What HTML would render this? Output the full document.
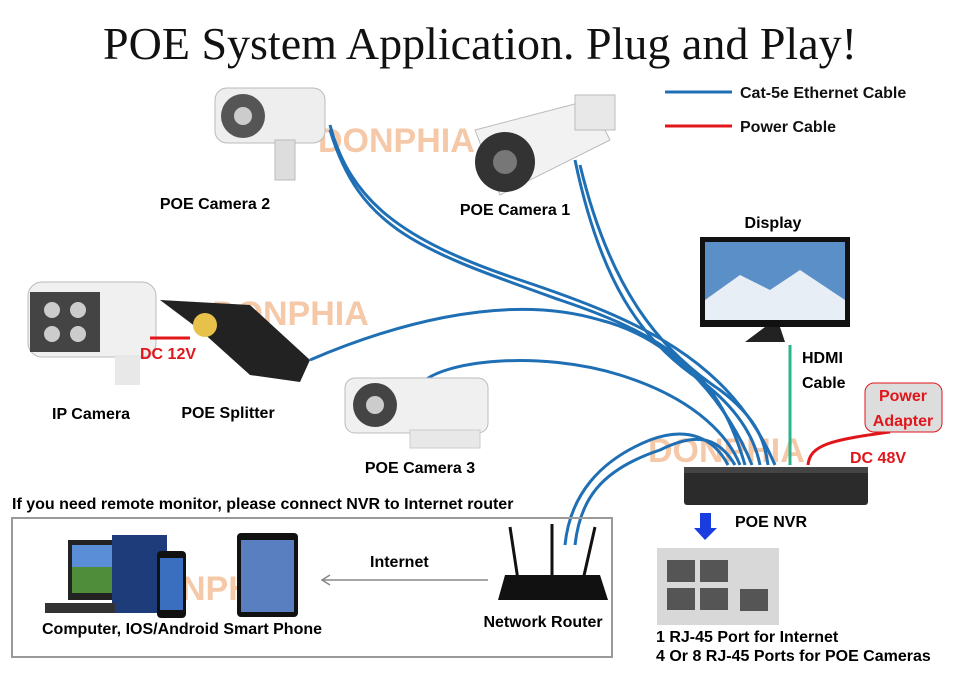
<!DOCTYPE html>
<html><head><meta charset="utf-8"><style>
html,body{margin:0;padding:0;background:#fff;}
svg{display:block;}
text{font-family:"Liberation Sans",Arial,sans-serif;font-weight:bold;}
</style></head><body>
<svg width="960" height="675" viewBox="0 0 960 675" xmlns="http://www.w3.org/2000/svg">
<rect width="960" height="675" fill="#fff"/>
<text x="480" y="59" text-anchor="middle" style="font-family:'Liberation Serif',serif;font-weight:normal" font-size="46" fill="#111">POE System Application. Plug and Play!</text>
<!-- legend -->
<line x1="665" y1="92" x2="732" y2="92" stroke="#1f6fb5" stroke-width="3"/>
<text x="740" y="98" font-size="16" fill="#111">Cat-5e Ethernet Cable</text>
<line x1="665" y1="126" x2="732" y2="126" stroke="#e0161b" stroke-width="3"/>
<text x="740" y="132" font-size="16" fill="#111">Power Cable</text>
<!-- watermarks -->
<g fill="#f2b68c" opacity="0.75" font-size="34">
<text x="318" y="152">DONPHIA</text>
<text x="212" y="325">DONPHIA</text>
<text x="648" y="462">DONPHIA</text>
<text x="130" y="600">DONPHIA</text>
</g>
<!-- blue cables -->
<g fill="none" stroke="#1f6fb5" stroke-width="3">
<path d="M330 130 C360 230 420 250 560 300 C680 340 720 380 745 465"/>
<path d="M575 160 C600 280 640 340 700 380 C740 410 755 440 760 465"/>
<path d="M580 165 C610 290 660 350 720 390 C760 420 765 445 768 465"/>
<path d="M310 360 C380 330 500 290 600 320 C680 340 730 410 752 465"/>
<path d="M420 385 C440 360 540 350 620 375 C700 400 730 440 740 465"/>
<path d="M575 545 C580 500 600 470 660 450 C700 430 720 440 735 465"/>
<path d="M565 545 C570 495 600 460 650 440 C690 425 715 440 728 465"/>
<path d="M330 125 C350 200 400 240 520 280 C640 320 730 360 775 465"/>
</g>
<line x1="790" y1="345" x2="790" y2="465" stroke="#2bb38c" stroke-width="3"/>
<path d="M808 465 C810 445 830 440 890 432" fill="none" stroke="#e0161b" stroke-width="3"/>
<!-- Camera 2 -->
<g>
<rect x="215" y="88" width="110" height="55" rx="12" fill="#eee" stroke="#bbb"/>
<circle cx="243" cy="116" r="22" fill="#555"/><circle cx="243" cy="116" r="9" fill="#ccc"/>
<rect x="275" y="140" width="20" height="40" fill="#ddd" stroke="#bbb"/>
</g>
<text x="215" y="209" text-anchor="middle" font-size="16">POE Camera 2</text>
<!-- Camera 1 -->
<g>
<path d="M475 130 L590 100 L610 140 L500 195 Z" fill="#f2f2f2" stroke="#bbb"/>
<circle cx="505" cy="162" r="30" fill="#333"/><circle cx="505" cy="162" r="12" fill="#777"/>
<rect x="575" y="95" width="40" height="35" fill="#e8e8e8" stroke="#bbb"/>
</g>
<text x="515" y="215" text-anchor="middle" font-size="16">POE Camera 1</text>
<!-- Display -->
<text x="773" y="228" text-anchor="middle" font-size="16">Display</text>
<rect x="700" y="237" width="150" height="90" fill="#111"/>
<rect x="705" y="242" width="140" height="78" fill="#5b8fc7"/>
<path d="M705 300 L740 275 L770 290 L800 270 L845 300 L845 320 L705 320Z" fill="#e8eef5"/>
<path d="M765 327 L780 327 L785 342 L745 342 Z" fill="#222"/>
<text x="802" y="363" font-size="16">HDMI</text>
<text x="802" y="388" font-size="16">Cable</text>
<rect x="865" y="383" width="77" height="49" rx="9" fill="#ddd" stroke="#e0161b"/>
<text x="903" y="401" text-anchor="middle" font-size="16" fill="#e0161b">Power</text>
<text x="903" y="426" text-anchor="middle" font-size="16" fill="#e0161b">Adapter</text>
<text x="850" y="463" font-size="16" fill="#e0161b">DC 48V</text>
<!-- NVR -->
<rect x="684" y="467" width="184" height="38" rx="3" fill="#2b2b2b"/>
<rect x="684" y="467" width="184" height="6" fill="#444"/>
<text x="735" y="527" font-size="16">POE NVR</text>
<rect x="700" y="513" width="11" height="16" fill="#1a3de0"/>
<path d="M694 528 L717 528 L705 540Z" fill="#1a3de0"/>
<rect x="657" y="548" width="122" height="77" fill="#d8d8d8"/>
<g fill="#555"><rect x="667" y="560" width="28" height="22"/><rect x="700" y="560" width="28" height="22"/><rect x="667" y="588" width="28" height="22"/><rect x="700" y="588" width="28" height="22"/><rect x="740" y="589" width="28" height="22"/></g>
<text x="656" y="642" font-size="16">1 RJ-45 Port for Internet</text>
<text x="656" y="661" font-size="16">4 Or 8 RJ-45 Ports for POE Cameras</text>
<!-- IP camera + splitter -->
<rect x="28" y="282" width="128" height="75" rx="14" fill="#f0f0f0" stroke="#bbb"/>
<rect x="30" y="292" width="70" height="60" fill="#444"/>
<circle cx="52" cy="310" r="8" fill="#ccc"/><circle cx="78" cy="310" r="8" fill="#ccc"/><circle cx="52" cy="334" r="8" fill="#ccc"/><circle cx="78" cy="334" r="8" fill="#ccc"/>
<rect x="115" y="355" width="25" height="30" fill="#e8e8e8"/>
<line x1="150" y1="338" x2="190" y2="338" stroke="#e0161b" stroke-width="3"/>
<text x="140" y="359" font-size="16" fill="#e0161b">DC 12V</text>
<path d="M160 300 L250 305 L310 360 L300 382 L250 375 L200 330 Z" fill="#222"/>
<circle cx="205" cy="325" r="12" fill="#e8c14a"/>
<text x="91" y="419" text-anchor="middle" font-size="16">IP Camera</text>
<text x="228" y="418" text-anchor="middle" font-size="16">POE Splitter</text>
<!-- Camera 3 -->
<rect x="345" y="378" width="143" height="55" rx="10" fill="#f0f0f0" stroke="#bbb"/>
<circle cx="375" cy="405" r="22" fill="#444"/><circle cx="375" cy="405" r="9" fill="#ccc"/>
<rect x="410" y="430" width="70" height="18" fill="#e8e8e8" stroke="#ccc"/>
<text x="420" y="473" text-anchor="middle" font-size="16">POE Camera 3</text>
<!-- remote box -->
<text x="12" y="509" font-size="16">If you need remote monitor, please connect NVR to Internet router</text>
<rect x="12" y="518" width="600" height="139" fill="none" stroke="#999" stroke-width="2"/>
<rect x="68" y="540" width="52" height="60" fill="#222"/><rect x="72" y="545" width="44" height="48" fill="#4f8d3a"/>
<rect x="72" y="545" width="44" height="22" fill="#5a8fd8"/>
<rect x="112" y="535" width="55" height="78" fill="#1f3c7a"/>
<rect x="45" y="603" width="70" height="10" fill="#333"/>
<rect x="157" y="551" width="29" height="67" rx="4" fill="#111"/><rect x="160" y="558" width="23" height="52" fill="#3a6fc0"/>
<rect x="237" y="533" width="61" height="84" rx="4" fill="#111"/><rect x="241" y="540" width="53" height="72" fill="#5a7fc0"/>
<text x="42" y="634" font-size="16">Computer, IOS/Android Smart Phone</text>
<text x="370" y="567" font-size="16">Internet</text>
<line x1="322" y1="580" x2="488" y2="580" stroke="#888" stroke-width="1.5"/>
<path d="M330 575 L322 580 L330 585" fill="none" stroke="#888" stroke-width="1.5"/>
<g stroke="#111" stroke-width="3"><line x1="510" y1="527" x2="518" y2="580"/><line x1="552" y1="524" x2="552" y2="575"/><line x1="595" y1="527" x2="583" y2="580"/></g>
<path d="M505 575 L600 575 L608 600 L498 600 Z" fill="#111"/>
<text x="543" y="627" text-anchor="middle" font-size="16">Network Router</text>
</svg>
</body></html>
